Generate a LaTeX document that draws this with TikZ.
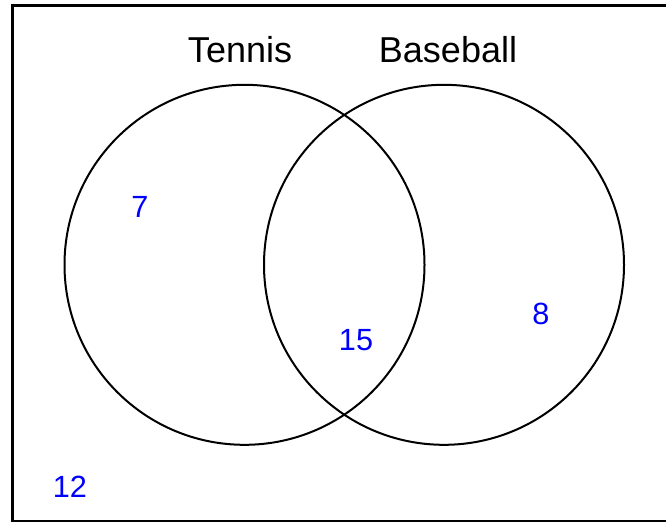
\documentclass[tikz,border=0pt]{standalone}
\usepackage{fontspec}
\setmainfont{Liberation Sans}
\usepackage{tikz}
\usepackage{xcolor}
\definecolor{cNum}{RGB}{0,0,255}
\tikzset{
	setcirc/.style ={circle, draw=black, line width=1.5pt, minimum size=270pt, inner sep=0pt},
	setlabel/.style={font=\fontsize{27}{30}\selectfont, text=black, inner sep=0pt},
	count/.style   ={font=\fontsize{23}{26}\selectfont, text=cNum, inner sep=0pt},
	frame/.style   ={draw=black, line width=2.2pt},
}
\begin{document}
\begin{tikzpicture}[x=0.75pt, y=-0.75pt]
	\useasboundingbox (0,0) rectangle (666,525);
	\clip (0,0) rectangle (666,525);
	% universe
	\draw[frame] (12.5,5.5) rectangle (690,521);
	% the two sets
	\node[setcirc] (tennis)   at (244.5,264.8) {};
	\node[setcirc] (baseball) at (444,264.8) {};
	\node[setlabel] (tennisLbl)   at (240,50) {Tennis};
	\node[setlabel] (baseballLbl) at (448,50) {Baseball};
	% counts
	\node[count] (onlyT)   at (140,207) {7};
	\node[count] (both)    at (356,340) {15};
	\node[count] (onlyB)   at (541,314) {8};
	\node[count] (neither) at (70,487)  {12};
\end{tikzpicture}
\end{document}
